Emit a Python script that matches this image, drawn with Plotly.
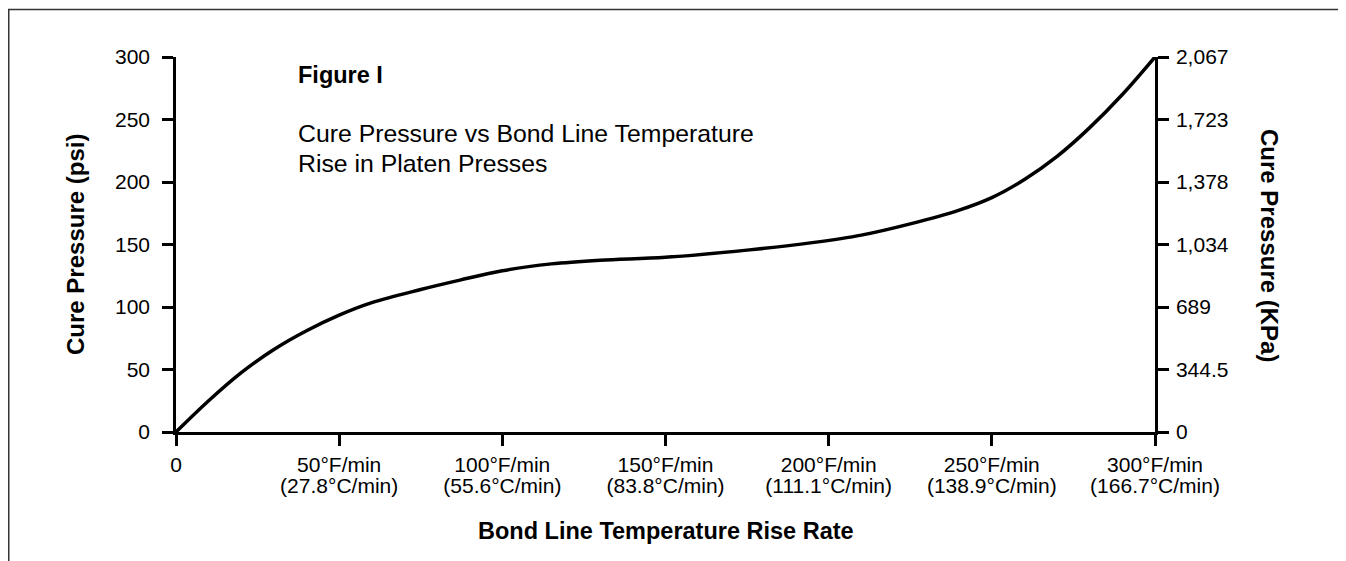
import plotly.graph_objects as go

# Data
rate_f = [0, 10, 20, 30, 40, 50, 60, 75, 87, 100, 115, 130, 150, 175, 195, 210, 225, 240, 250, 260, 270, 280, 290, 300]
pressure_psi = [0, 25, 47.5, 66, 81, 93.5, 103.5, 114, 121.5, 129, 134.5, 137.5, 139.8, 145.5, 151.5, 157.5, 166.5, 177.5, 187.5, 202, 220.5, 243.5, 270, 300]

x_tick_vals = [0, 50, 100, 150, 200, 250, 300]
x_tick_f = ["0", "50°F/min", "100°F/min", "150°F/min", "200°F/min", "250°F/min", "300°F/min"]
x_tick_c = ["", "(27.8°C/min)", "(55.6°C/min)", "(83.8°C/min)", "(111.1°C/min)", "(138.9°C/min)", "(166.7°C/min)"]
psi_ticks = [0, 50, 100, 150, 200, 250, 300]
kpa_ticks = [0, 344.5, 689, 1034, 1378, 1723, 2067]
kpa_text = ["0", "344.5", "689", "1,034", "1,378", "1,723", "2,067"]

FONT = "Liberation Sans, Arial, sans-serif"
W, H = 1346, 561
L, T = 168, 49
PW, PH = 979, 375
R, B = W - L - PW, H - T - PH

def px2paper_x(px):
    return (px - L) / PW

def px2paper_y(py):
    return (T + PH - py) / PH

fig = go.Figure()
fig.add_trace(go.Scatter(x=rate_f, y=pressure_psi, mode="lines",
                         line=dict(color="black", width=3.5, shape="spline", smoothing=1.0),
                         hoverinfo="x+y", showlegend=False))
fig.add_trace(go.Scatter(x=[rate_f[0], rate_f[-1]], y=[kpa_ticks[0], kpa_ticks[-1]], xaxis="x2", yaxis="y2",
                         mode="markers", marker=dict(opacity=0), hoverinfo="skip", showlegend=False))

TICKFONT = dict(family=FONT, size=21, color="black")
axis_common = dict(showgrid=False, zeroline=False, showline=True, linecolor="black", linewidth=2.5,
                   ticks="outside", ticklen=11, tickwidth=2.5, tickcolor="black", tickfont=TICKFONT)

fig.update_layout(
    width=W, height=H,
    margin=dict(l=L, r=R, t=T, b=B, pad=0),
    paper_bgcolor="white", plot_bgcolor="white",
    font=dict(family=FONT, color="black"),
    xaxis=dict(range=[0, 300], tickvals=x_tick_vals, ticktext=x_tick_f, ticklabelstandoff=1, **axis_common),
    xaxis2=dict(range=[0, 300], tickvals=x_tick_vals, ticktext=x_tick_c, overlaying="x", side="bottom",
                anchor="y", showgrid=False, zeroline=False, showline=False, ticks="outside", ticklen=11,
                tickcolor="rgba(0,0,0,0)", tickfont=TICKFONT, ticklabelstandoff=24),
    yaxis=dict(range=[0, 300], tickvals=psi_ticks, ticklabelstandoff=8, **axis_common),
    yaxis2=dict(range=[0, 2067], tickvals=kpa_ticks, ticktext=kpa_text, overlaying="y", side="right",
                anchor="x", ticklabelstandoff=3, **axis_common),
    shapes=[dict(type="rect", xref="paper", yref="paper",
                 x0=px2paper_x(0.75), x1=px2paper_x(1332), y0=px2paper_y(620), y1=px2paper_y(1.5),
                 line=dict(color="#333333", width=1.5), layer="below")],
    annotations=[
        dict(text="<b>Figure I</b>", xref="paper", yref="paper", x=px2paper_x(288), y=px2paper_y(67),
             xanchor="left", yanchor="middle", showarrow=False, font=dict(family=FONT, size=23.5)),
        dict(text="Cure Pressure vs Bond Line Temperature", xref="paper", yref="paper",
             x=px2paper_x(288), y=px2paper_y(125), xanchor="left", yanchor="middle", showarrow=False,
             font=dict(family=FONT, size=24.8)),
        dict(text="Rise in Platen Presses", xref="paper", yref="paper",
             x=px2paper_x(288), y=px2paper_y(155), xanchor="left", yanchor="middle", showarrow=False,
             font=dict(family=FONT, size=24.8)),
        dict(text="<b>Bond Line Temperature Rise Rate</b>", xref="paper", yref="paper",
             x=px2paper_x(658), y=px2paper_y(523), xanchor="center", yanchor="middle", showarrow=False,
             font=dict(family=FONT, size=23.5)),
        dict(text="<b>Cure Pressure (psi)</b>", xref="paper", yref="paper", textangle=-90,
             x=px2paper_x(67), y=px2paper_y(237), xanchor="center", yanchor="middle", showarrow=False,
             font=dict(family=FONT, size=24)),
        dict(text="<b>Cure Pressure (KPa)</b>", xref="paper", yref="paper", textangle=90,
             x=px2paper_x(1262), y=px2paper_y(237), xanchor="center", yanchor="middle", showarrow=False,
             font=dict(family=FONT, size=24)),
    ],
)

fig.write_html("out.html")
